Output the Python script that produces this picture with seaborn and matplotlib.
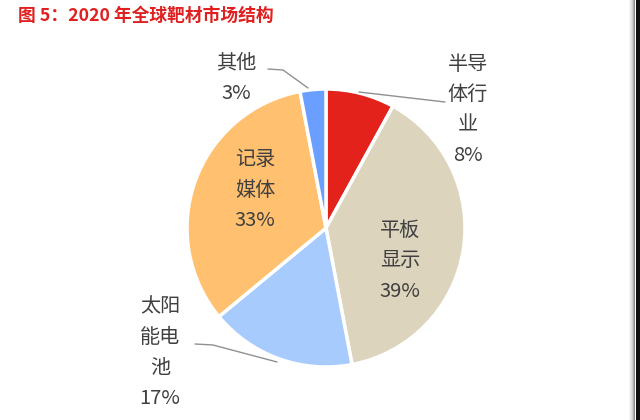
import matplotlib
matplotlib.use("Agg")
import matplotlib.pyplot as plt
import seaborn as sns
from matplotlib.patches import Rectangle

sns.set_theme(style="white")
plt.rcParams['font.family'] = ['Noto Sans CJK SC', 'DejaVu Sans']

title = "图 5：2020 年全球靶材市场结构"
categories = ["半导体行业", "平板显示", "太阳能电池", "记录媒体", "其他"]
label_texts = ["半导\n体行\n业\n8%", "平板\n显示\n39%", "太阳\n能电\n池\n17%", "记录\n媒体\n33%", "其他\n3%"]
values = [8, 39, 17, 33, 3]
colors = ["#E3231B", "#DDD4BE", "#A8CBFE", "#FFC06F", "#6B9FFF"]

W, H = 640, 420
fig = plt.figure(figsize=(6.4, 4.2), dpi=100)
fig.patch.set_facecolor("white")
ax = fig.add_axes([0, 0, 1, 1])

cx, cy, r = 326, H - 228, 139
ax.pie(values, colors=colors, startangle=90, counterclock=False,
       center=(cx, cy), radius=r, frame=True,
       wedgeprops=dict(edgecolor="white", linewidth=2.5))
ax.set_xlim(0, W)
ax.set_ylim(0, H)
ax.set_aspect("equal")
ax.axis("off")

txt_color = "#404040"
pos = [(468, 110), (400, 261), (160, 353), (255, 190), (236, 78)]
for t, (x, y) in zip(label_texts, pos):
    ax.text(x, H - y, t, ha="center", va="center", fontsize=14.5,
            color=txt_color, linespacing=1.6)

# leader lines
lc = "#909090"
ax.plot([359, 445], [H - 92, H - 102], color=lc, lw=1)
ax.plot([268, 283, 308], [H - 69, H - 70, H - 88], color=lc, lw=1)
ax.plot([195, 213, 277], [H - 344, H - 345, H - 362], color=lc, lw=1)

fig.text(18 / W, 1 - 16 / H, title, ha="left", va="center", fontsize=12.8,
         fontweight="bold", color="#E02020")

# right edge shadow
for i, a in enumerate([0.04, 0.08, 0.13, 0.2, 0.3, 0.45]):
    fig.add_artist(Rectangle(((629 + i) / W, 0), 1 / W, 1, transform=fig.transFigure,
                             facecolor="black", alpha=a, edgecolor="none"))
fig.add_artist(Rectangle((636 / W, 0), 4 / W, 1, transform=fig.transFigure,
                         facecolor="#111111", edgecolor="none"))

fig.savefig("out.png", dpi=100)
